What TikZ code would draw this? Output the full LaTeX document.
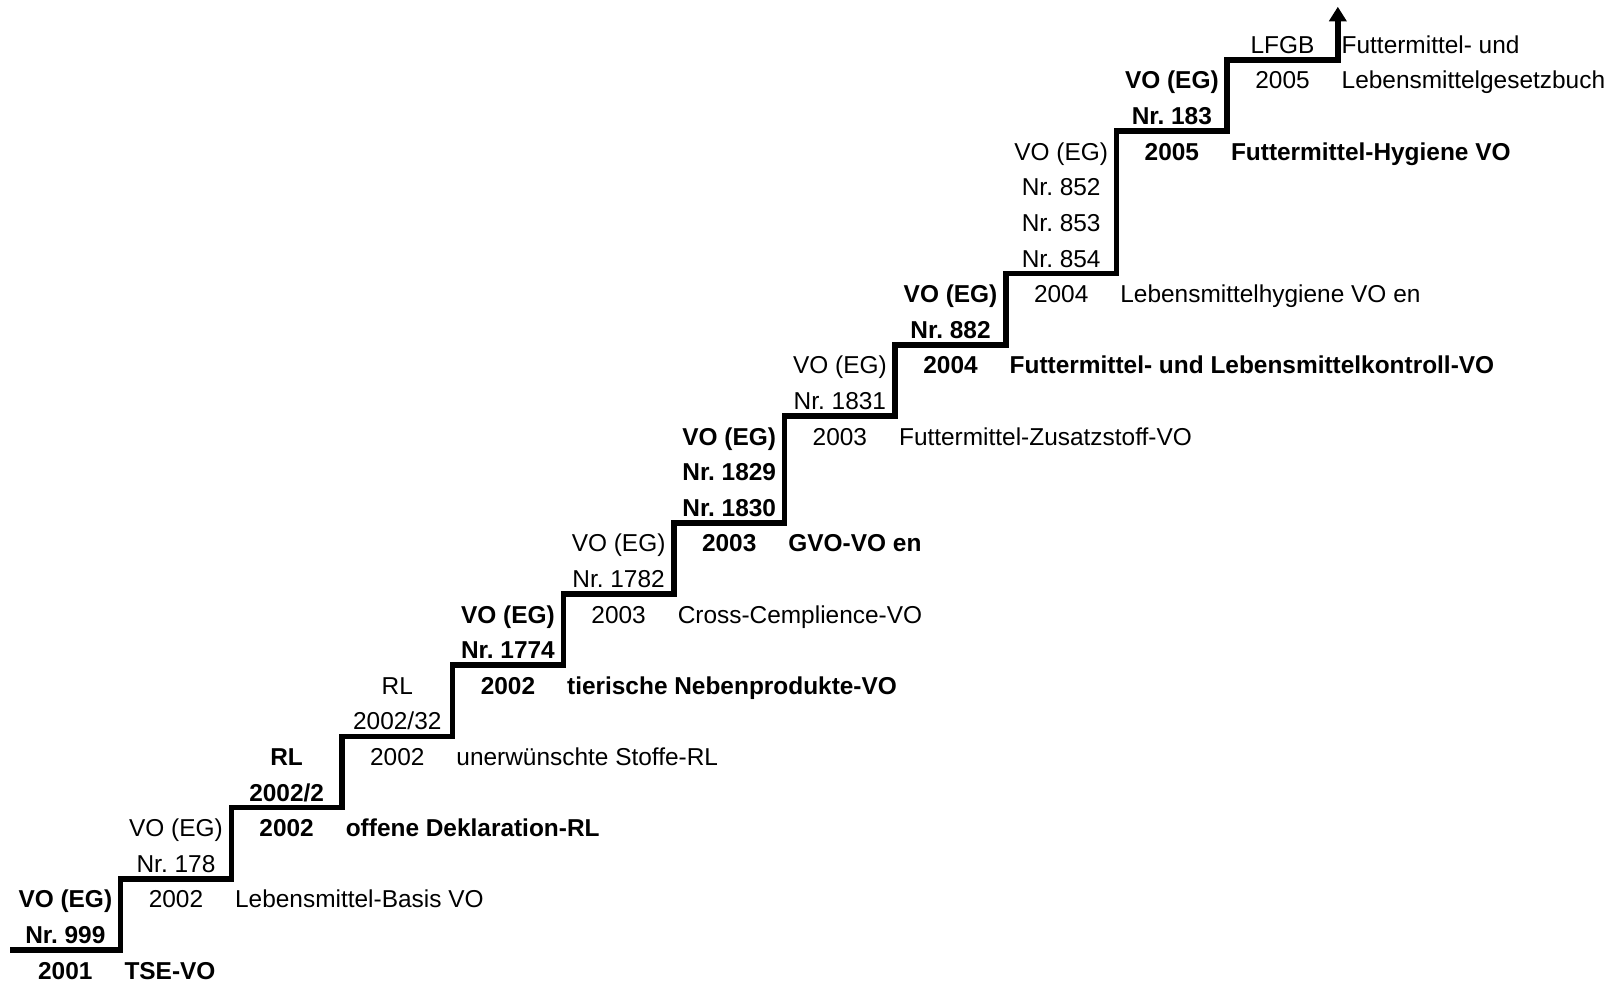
\documentclass[tikz,border=0pt]{standalone}
\usepackage{fontspec}
\setmainfont{Liberation Sans}
\usepackage{tikz}
\usetikzlibrary{arrows.meta}
\newcommand{\voeg}{VO (EG)}
\newcommand{\schrift}{\fontsize{13.9pt}{20.26pt}\selectfont\frenchspacing}

\begin{document}
\begin{tikzpicture}[x=2.213cm, y=0.712cm,
    every node/.style={inner sep=0pt, font=\schrift},
    reg/.style={anchor=base, align=center},
    txt/.style={anchor=base west, xshift=0.07cm, align=left},
    fett/.style={font=\schrift\bfseries},
    treppe/.style={line width=0.11cm, -{Triangle[length=0.29cm,width=0.34cm]}}]
    \useasboundingbox (-0.0904,-0.1124) rectangle (14.496,27.5);
    \coordinate (spitze) at (12,27.31);
    \draw[treppe] (0,0.815) -| (1,2.815) -| (2,4.815) -| (3,6.815) -| (4,8.815)
        -| (5,10.815) -| (6,12.815) -| (7,15.815) -| (8,17.815) -| (9,19.815)
        -| (10,23.815) -| (11,25.815) -| (spitze);
    % 2001
    \node[reg,fett] (vo0) at (0.5,1) {\voeg\\Nr. 999};
    \node[reg,fett] (j0) at (0.5,0) {2001};
    \node[txt,fett] (t0) at (1,0) {TSE-VO};
    % 2002
    \node[reg] (vo1) at (1.5,3) {\voeg\\Nr. 178};
    \node[reg] (j1) at (1.5,2) {2002};
    \node[txt] (t1) at (2,2) {Lebensmittel-Basis VO};
    \node[reg,fett] (vo2) at (2.5,5) {RL\\2002/2};
    \node[reg,fett] (j2) at (2.5,4) {2002};
    \node[txt,fett] (t2) at (3,4) {offene Deklaration-RL};
    \node[reg] (vo3) at (3.5,7) {RL\\2002/32};
    \node[reg] (j3) at (3.5,6) {2002};
    \node[txt] (t3) at (4,6) {unerwünschte Stoffe-RL};
    \node[reg,fett] (vo4) at (4.5,9) {\voeg\\Nr. 1774};
    \node[reg,fett] (j4) at (4.5,8) {2002};
    \node[txt,fett] (t4) at (5,8) {tierische Nebenprodukte-VO};
    % 2003
    \node[reg] (vo5) at (5.5,11) {\voeg\\Nr. 1782};
    \node[reg] (j5) at (5.5,10) {2003};
    \node[txt] (t5) at (6,10) {Cross-Cemplience-VO};
    \node[reg,fett] (vo6) at (6.5,13) {\voeg\\Nr. 1829\\Nr. 1830};
    \node[reg,fett] (j6) at (6.5,12) {2003};
    \node[txt,fett] (t6) at (7,12) {GVO-VO en};
    \node[reg] (vo7) at (7.5,16) {\voeg\\Nr. 1831};
    \node[reg] (j7) at (7.5,15) {2003};
    \node[txt] (t7) at (8,15) {Futtermittel-Zusatzstoff-VO};
    % 2004
    \node[reg,fett] (vo8) at (8.5,18) {\voeg\\Nr. 882};
    \node[reg,fett] (j8) at (8.5,17) {2004};
    \node[txt,fett] (t8) at (9,17) {Futtermittel- und Lebensmittelkontroll-VO};
    \node[reg] (vo9) at (9.5,20) {\voeg\\Nr. 852\\Nr. 853\\Nr. 854};
    \node[reg] (j9) at (9.5,19) {2004};
    \node[txt] (t9) at (10,19) {Lebensmittelhygiene VO en};
    % 2005
    \node[reg,fett] (vo10) at (10.5,24) {\voeg\\Nr. 183};
    \node[reg,fett] (j10) at (10.5,23) {2005};
    \node[txt,fett] (t10) at (11,23) {Futtermittel-Hygiene VO};
    \node[reg] (vo11) at (11.5,26) {LFGB};
    \node[reg] (j11) at (11.5,25) {2005};
    \node[txt] (t11) at (12,25) {Futtermittel- und\\Lebensmittelgesetzbuch};
\end{tikzpicture}
\end{document}
